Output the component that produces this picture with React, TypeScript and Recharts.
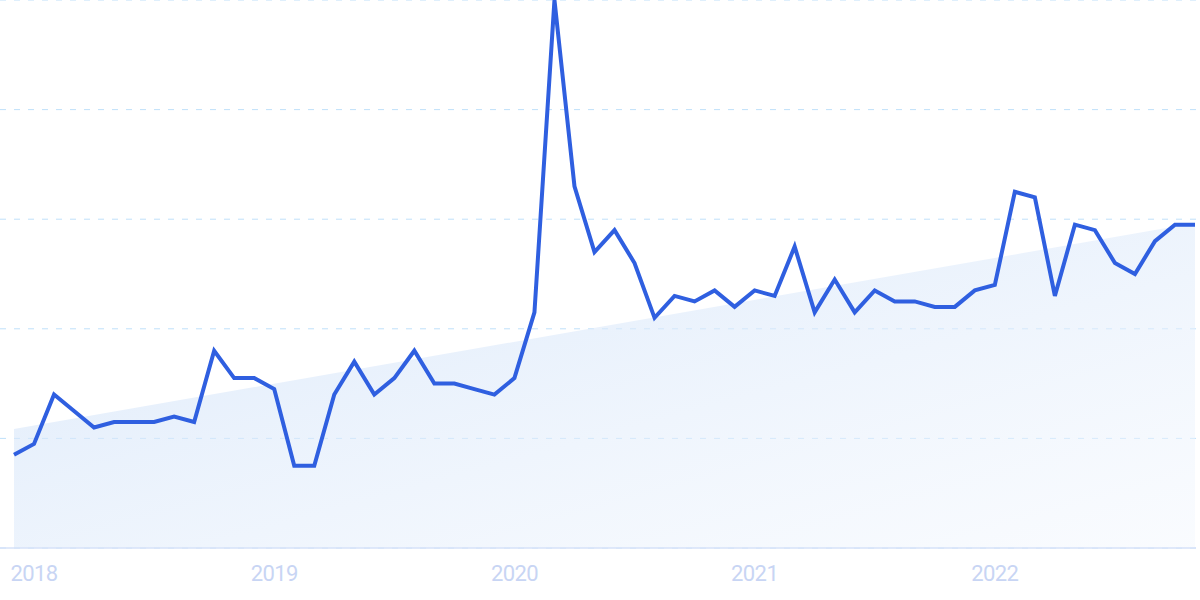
import {
  ComposedChart,
  Area,
  Line,
  XAxis,
  YAxis,
  CartesianGrid,
} from "recharts";

// monthly interest, Dec 2017 .. Nov 2022
const months = [
  "2017-12",
  "2018-01", "2018-02", "2018-03", "2018-04", "2018-05", "2018-06",
  "2018-07", "2018-08", "2018-09", "2018-10", "2018-11", "2018-12",
  "2019-01", "2019-02", "2019-03", "2019-04", "2019-05", "2019-06",
  "2019-07", "2019-08", "2019-09", "2019-10", "2019-11", "2019-12",
  "2020-01", "2020-02", "2020-03", "2020-04", "2020-05", "2020-06",
  "2020-07", "2020-08", "2020-09", "2020-10", "2020-11", "2020-12",
  "2021-01", "2021-02", "2021-03", "2021-04", "2021-05", "2021-06",
  "2021-07", "2021-08", "2021-09", "2021-10", "2021-11", "2021-12",
  "2022-01", "2022-02", "2022-03", "2022-04", "2022-05", "2022-06",
  "2022-07", "2022-08", "2022-09", "2022-10", "2022-11",
];

const interest = [
  17,
  19, 28, 25, 22, 23, 23, 23, 24, 23, 36, 31, 31,
  29, 15, 15, 28, 34, 28, 31, 36, 30, 30, 29, 28,
  31, 43, 100, 66, 54, 58, 52, 42, 46, 45, 47, 44,
  47, 46, 55, 43, 49, 43, 47, 45, 45, 44, 44, 47,
  48, 65, 64, 46, 59, 58, 52, 50, 56, 59, 59,
];

// trend line end points (first and last month)
const trendStart = 21.7;
const trendEnd = 59.3;

const yearTicks = ["2018-01", "2019-01", "2020-01", "2021-01", "2022-01"];
const yTicks = [0, 20, 40, 60, 80, 100];

const data = months.map((m, i) => ({
  month: m,
  value: interest[i],
  trend: i === 0 ? trendStart : i === months.length - 1 ? trendEnd : null,
}));

export default function App() {
  return (
    <div style={{ position: "absolute", left: 0, top: 0, width: 1200, height: 600, background: "#fff" }}>
      <ComposedChart width={1196} height={600} data={data} margin={{ top: 0, right: 0, left: 0, bottom: 0 }}>
        <defs>
          <linearGradient id="trendFill" x1="0" y1="0" x2="1" y2="1">
            <stop offset="0%" stopColor="#cde0f8" stopOpacity={0.7} />
            <stop offset="100%" stopColor="#f4f8fe" stopOpacity={0.5} />
          </linearGradient>
        </defs>
        <CartesianGrid vertical={false} stroke="#bfe0fa" strokeDasharray="6 8" />
        <XAxis
          dataKey="month"
          ticks={yearTicks}
          tickFormatter={(m: string) => m.slice(0, 4)}
          interval={0}
          padding={{ left: 14, right: 1 }}
          height={52}
          tickLine={false}
          tickMargin={11}
          axisLine={{ stroke: "#d6e2f8", strokeWidth: 1.5 }}
          tick={{ fontSize: 22, fill: "#c8d5f4", fontFamily: "Roboto, sans-serif", letterSpacing: -0.6 }}
        />
        <YAxis hide domain={[0, 100]} ticks={yTicks} />
        <Area
          dataKey="trend"
          type="linear"
          connectNulls
          stroke="none"
          fill="url(#trendFill)"
          fillOpacity={1}
          isAnimationActive={false}
          dot={false}
          activeDot={false}
        />
        <Line
          dataKey="value"
          type="linear"
          stroke="#2f5fe0"
          strokeWidth={4}
          dot={false}
          activeDot={false}
          isAnimationActive={false}
        />
      </ComposedChart>
    </div>
  );
}
